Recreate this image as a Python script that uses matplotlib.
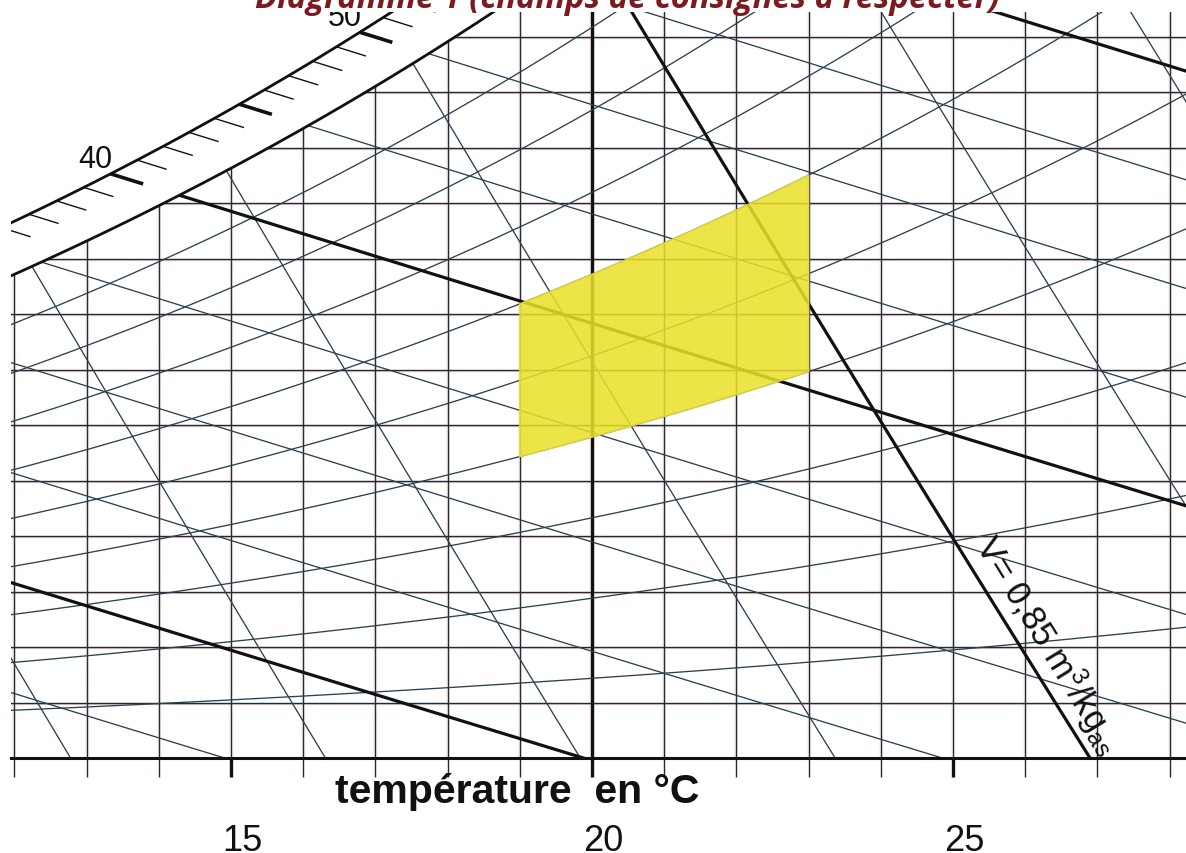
import numpy as np
import matplotlib
matplotlib.use('Agg')
import matplotlib.pyplot as plt
from matplotlib.patches import Polygon

plt.rcParams['font.family'] = ['Liberation Sans', 'DejaVu Sans']
plt.rcParams['mathtext.fontset'] = 'custom'
plt.rcParams['mathtext.rm'] = 'Liberation Sans'
plt.rcParams['mathtext.it'] = 'Liberation Sans:italic'

# ---------------- data ----------------
title = "Diagramme 1 (champs de consignes à respecter)"
x_label = "température  en °C"
temp_lines = list(range(12, 29))          # dry-bulb temperature grid, °C
temp_thick = [20]
temp_tick_labels = [15, 20, 25]
w_lines = list(range(1, 14))              # humidity ratio grid, g/kg
rh_levels = [10, 20, 30, 40, 50, 60, 70, 80, 90]    # relative humidity, %
h_levels = [15, 20, 25, 30, 35, 40, 45, 50, 55, 60]  # enthalpy, kJ/kg
h_thick = [20, 40, 60]
v_levels = [0.81, 0.82, 0.83, 0.84, 0.85, 0.86, 0.87]  # specific volume m3/kg
v_thick = [0.85]
h_scale_ticks = list(range(28, 62))
h_scale_major = [30, 35, 40, 45, 50, 55, 60]
h_scale_labels = [40, 50]
comfort_t = [19, 23]       # °C
comfort_rh = [40, 60]      # %
v_label_value = 0.85
v_label = r'V= 0,85 m$^{3}$/kg$_{\rm as}$'

P = 101325.0


def pws(t):
    return 610.94 * np.exp(17.625 * t / (t + 243.04))


def w_rh(t, rh):
    p = rh / 100.0 * pws(t)
    return 622.0 * p / (P - p)


def w_h(t, h):
    return 1000.0 * (h - 1.006 * t) / (2501.0 + 1.86 * t)


def t_v(w, v):
    return v * (P / 1000.0) / 0.287042 / (1 + 1.6078 * w / 1000.0) - 273.15


def sat_t_for_h(h):
    lo, hi = -20.0, 60.0
    for _ in range(80):
        m = 0.5 * (lo + hi)
        f = 1.006 * m + w_rh(m, 100) / 1000.0 * (2501 + 1.86 * m) - h
        if f > 0:
            hi = m
        else:
            lo = m
    return 0.5 * (lo + hi)


# ---------------- layout (pixels) ----------------
W, H = 1186, 854
SX, SY = 72.2, 55.5       # px per °C, px per g/kg
X20, Y0, XL, YT = 592, 759, 11, 13

fig = plt.figure(figsize=(W / 100, H / 100), dpi=100)
fig.patch.set_facecolor('white')
t_min = 20 - (X20 - XL) / SX
t_max = 20 + (W - X20) / SX
w_max = (Y0 - YT) / SY
ax = fig.add_axes([XL / W, (H - Y0) / H, (W - XL) / W, (Y0 - YT) / H])
ax.set_xlim(t_min, t_max)
ax.set_ylim(0, w_max)
ax.axis('off')

GRID = '#1e2b38'
THIN = '#2a4250'
THICK = '#111111'

ts = np.linspace(t_min - 3, t_max + 3, 500)
sat = w_rh(ts, 100)
clip = Polygon(np.column_stack([np.r_[ts, ts[-1], ts[0]], np.r_[sat, -3, -3]]),
               closed=True, transform=ax.transData, facecolor='none', edgecolor='none')
ax.add_patch(clip)


def plot_clipped(x, y, **kw):
    ln, = ax.plot(x, y, solid_capstyle='butt', **kw)
    ln.set_clip_path(clip)
    return ln


# horizontal grid (humidity ratio)
for w in w_lines:
    plot_clipped([t_min - 1, t_max + 1], [w - 1.4 / SY] * 2, color='#e8826a', lw=0.9, alpha=0.4, zorder=1)
    plot_clipped([t_min - 1, t_max + 1], [w, w], color=GRID, lw=1.0, zorder=2)

# vertical grid (temperature)
for t in temp_lines:
    lw = 2.4 if t in temp_thick else 1.0
    col = THICK if t in temp_thick else GRID
    plot_clipped([t, t], [0, w_max + 1], color='#f0a090', lw=lw + 2.2, alpha=0.14, zorder=1)
    plot_clipped([t, t], [0, w_max + 1], color=col, lw=lw, zorder=2)
    major = t in temp_tick_labels
    ax.plot([t, t], [0, -19 / SY], color=THICK if major else GRID, lw=2.4 if major else 1.0,
            clip_on=False, solid_capstyle='butt', zorder=2)

tt = np.linspace(t_min - 1, t_max + 1, 300)
# relative humidity curves
for rh in rh_levels:
    plot_clipped(tt, w_rh(tt, rh), color=THIN, lw=0.95, zorder=3)

# enthalpy lines
for h in h_levels:
    if h in h_thick:
        plot_clipped(tt, w_h(tt, h), color=THICK, lw=2.3, zorder=4)
    else:
        plot_clipped(tt, w_h(tt, h), color=THIN, lw=0.95, zorder=3)

# specific volume lines
ww = np.linspace(-1, 17, 100)
for v in v_levels:
    if v in v_thick:
        plot_clipped(t_v(ww, v), ww, color=THICK, lw=2.3, zorder=4)
    else:
        plot_clipped(t_v(ww, v), ww, color=THIN, lw=0.95, zorder=3)

# saturation curve + enthalpy scale band
ax.plot(ts, sat, color=THICK, lw=2.0, zorder=4)
L_BAND = 72.0


def outer_point(h, L):
    t_s = sat_t_for_h(h)
    w_s = w_rh(t_s, 100)
    slope = -1000.0 * (1.006 + 1.86e-3 * w_s) / (2501 + 1.86 * t_s)
    sp = slope * SY / SX
    ux, uy = -1.0, -sp
    n = np.hypot(ux, uy)
    ux, uy = ux / n, uy / n
    return t_s + L * ux / SX, w_s + L * uy / SY, ux, uy


hh = np.linspace(25, 75, 300)
outer = np.array([outer_point(h, L_BAND)[:2] for h in hh])
ax.plot(outer[:, 0], outer[:, 1], color=THICK, lw=2.0, zorder=4)
for h in h_scale_ticks:
    to, wo, ux, uy = outer_point(h, L_BAND)
    major = h in h_scale_major
    ln = 34 if major else 31
    ax.plot([to, to - ln * ux / SX], [wo, wo - ln * uy / SY], color=THICK,
            lw=2.6 if major else 1.0, solid_capstyle='butt', zorder=4)
    if h in h_scale_labels:
        ax.text(to + 2 / SX, wo + 7 / SY, str(h), ha='right', va='baseline',
                fontsize=22, color='#111111', clip_on=True, zorder=6)

# comfort zone
tc = np.linspace(comfort_t[0], comfort_t[1], 60)
top = w_rh(tc, comfort_rh[1])
bot = w_rh(tc[::-1], comfort_rh[0])
ax.add_patch(Polygon(np.column_stack([np.r_[tc, tc[::-1]], np.r_[top, bot]]), closed=True,
                     facecolor='#e9e12a', edgecolor='#e6de40', lw=1.2, alpha=0.86, zorder=5))

# bottom axis line
ax.plot([t_min, t_max], [0, 0], color=THICK, lw=2.2, clip_on=False, zorder=6)

# tick labels
for t in temp_tick_labels:
    ax.text(t + 11 / SX, -(851 - Y0) / SY, str(t), ha='center', va='baseline',
            fontsize=26, color='#111111', clip_on=False)

# x label
xl = ax.text(20 + (335 - X20) / SX, -(803 - Y0) / SY, x_label, ha='left', va='baseline',
             fontsize=29, fontweight='bold', color='#111111', clip_on=False)

# v label along v = 0.85 line
wa, wb = 0.0, 13.0
dxp = (t_v(wb, v_label_value) - t_v(wa, v_label_value)) * SX
dyp = (wb - wa) * SY
ang = np.degrees(np.arctan2(-dyp, -dxp))
w_mid = (Y0 - 658) / SY
t_mid = t_v(w_mid, v_label_value)
dl = np.hypot(dxp, dyp)
px, py = abs(dyp / dl), abs(dxp / dl)   # perpendicular toward upper-right (y up)
off = 25
ax.text(t_mid + off * px / SX, w_mid + off * py / SY, v_label, rotation=ang,
        rotation_mode='anchor', ha='center', va='center', fontsize=25, color='#111111', zorder=6)

# title
ttl = fig.text(627.5 / W, 1 - 8 / H, title, ha='center', va='baseline', fontsize=21,
               color='#7b1b1f', family=['Open Sans', 'DejaVu Sans'], fontweight='bold',
               fontstyle='italic')


def fit(txt, target):
    fig.canvas.draw()
    bb = txt.get_window_extent()
    if bb.width > 0:
        txt.set_fontsize(txt.get_fontsize() * target / bb.width)


fit(ttl, 745)
fit(xl, 365)

fig.savefig('out.png', dpi=100, facecolor='white')
